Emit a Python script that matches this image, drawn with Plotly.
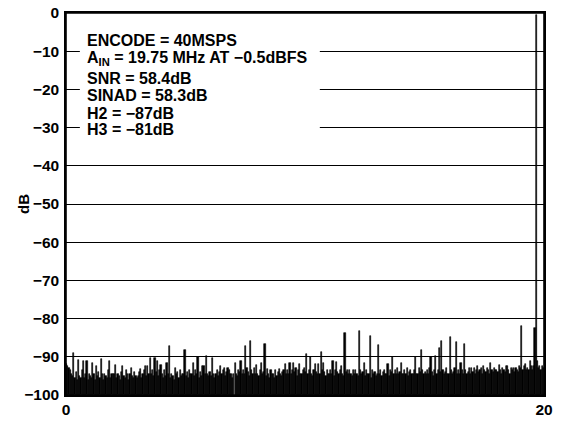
import plotly.graph_objects as go

# FFT bins: 0.05 MHz spacing, 20 bins per MHz row (values in dB)
bin_step_mhz = 0.05
row0 = [-92.0, -92.5, -93.0, -93.5, -94.5, -95.0, -89.0, -95.5, -94.0, -96.0, -90.8, -95.0, -95.5, -93.5, -91.2, -95.5, -94.5, -91.2, -96.0, -94.5]
row1 = [-95.0, -95.5, -91.5, -94.5, -96.0, -92.5, -95.0, -94.0, -95.5, -90.6, -94.5, -96.0, -94.5, -95.0, -95.5, -93.5, -91.2, -95.5, -94.5, -94.5]
row2 = [-94.5, -92.1, -95.5, -94.5, -95.0, -96.0, -94.0, -92.5, -95.0, -95.5, -93.5, -94.5, -96.0, -94.5, -92.9, -95.0, -95.5, -94.0, -95.0, -95.5]
row3 = [-95.0, -94.0, -93.2, -95.5, -94.5, -93.5, -92.5, -95.0, -92.3, -94.5, -90.2, -94.5, -93.5, -95.0, -90.4, -94.0, -91.2, -95.0, -93.5, -92.1]
row4 = [-94.5, -95.5, -93.5, -95.0, -91.5, -94.5, -87.3, -95.5, -94.5, -95.0, -96.0, -93.0, -94.5, -94.0, -95.5, -93.5, -95.0, -94.5, -94.5, -88.2]
row5 = [-95.0, -94.0, -95.5, -93.5, -94.5, -94.5, -91.7, -95.0, -93.5, -94.5, -90.1, -95.5, -94.0, -95.0, -92.5, -92.5, -94.5, -89.7, -94.5, -95.0]
row6 = [-94.0, -95.0, -90.2, -94.5, -95.5, -94.5, -93.5, -95.0, -94.0, -92.3, -94.5, -93.5, -92.8, -95.0, -94.0, -92.8, -93.5, -94.5, -94.5, -95.5]
row7 = [-94.5, -91.7, -94.5, -95.0, -93.5, -94.0, -91.2, -94.5, -93.5, -94.5, -87.1, -93.0, -94.0, -95.0, -85.8, -93.5, -94.5, -93.0, -94.5, -92.1]
row8 = [-94.5, -95.0, -93.5, -91.5, -94.5, -94.0, -86.6, -95.0, -93.2, -94.5, -95.5, -93.5, -94.5, -94.5, -95.5, -93.5, -95.0, -94.0, -93.2, -94.5]
row9 = [-95.0, -94.0, -93.5, -91.9, -94.5, -93.5, -94.5, -91.7, -94.5, -93.5, -91.5, -94.0, -92.8, -95.0, -93.5, -92.0, -94.5, -94.5, -93.5, -92.8]
row10 = [-94.0, -89.3, -94.5, -93.5, -90.1, -94.5, -95.0, -93.5, -91.8, -94.0, -94.5, -91.8, -94.5, -88.8, -93.5, -91.7, -94.0, -95.0, -93.5, -94.5]
row11 = [-94.5, -93.5, -94.5, -91.0, -95.0, -93.5, -91.3, -94.0, -94.5, -93.5, -92.5, -94.5, -95.0, -83.8, -94.0, -93.5, -94.5, -93.5, -94.5, -95.0]
row12 = [-93.5, -94.5, -93.5, -94.5, -95.0, -83.2, -93.5, -94.5, -94.0, -91.5, -95.0, -93.5, -94.5, -94.5, -84.5, -95.5, -93.5, -94.5, -94.0, -95.0]
row13 = [-94.5, -87.0, -94.5, -93.5, -95.0, -94.0, -93.5, -94.5, -94.5, -92.0, -95.0, -93.5, -94.0, -90.1, -94.5, -93.5, -94.5, -93.0, -94.5, -94.0]
row14 = [-91.7, -94.5, -94.5, -93.5, -94.5, -93.0, -95.0, -94.0, -93.5, -94.5, -94.5, -93.5, -90.1, -94.5, -94.5, -93.0, -94.0, -88.2, -93.5, -94.5]
row15 = [-94.0, -94.5, -93.5, -94.5, -93.0, -90.1, -94.0, -95.0, -93.5, -89.7, -94.5, -93.5, -87.7, -94.0, -85.8, -93.5, -94.5, -94.0, -93.0, -94.5]
row16 = [-94.5, -84.9, -93.5, -94.5, -94.0, -93.0, -86.2, -94.5, -93.5, -94.5, -91.7, -93.5, -94.5, -86.7, -93.5, -94.5, -94.0, -93.0, -94.5, -93.0]
row17 = [-94.0, -93.0, -94.5, -93.5, -92.5, -94.0, -93.5, -93.0, -94.5, -92.5, -93.5, -94.0, -93.0, -93.5, -94.5, -91.7, -93.5, -94.0, -93.0, -93.5]
row18 = [-93.5, -94.0, -92.1, -93.5, -94.5, -93.0, -93.5, -94.0, -92.5, -92.5, -93.5, -94.5, -93.0, -93.5, -92.9, -94.0, -93.0, -93.5, -94.0, -92.5]
row19 = [-93.0, -81.9, -93.5, -92.5, -92.0, -93.5, -93.0, -93.5, -91.2, -92.5, -93.5, -92.5, -82.5, -0.5, -91.0, -93.0, -92.5, -93.5, -92.5, -93.0]

rows = [row0, row1, row2, row3, row4, row5, row6, row7, row8, row9,
        row10, row11, row12, row13, row14, row15, row16, row17, row18, row19]
spectrum_db = [v for r in rows for v in r]
freq_mhz = [i * bin_step_mhz for i in range(len(spectrum_db))]

floor_db = -100
y_tick_vals = [0, -10, -20, -30, -40, -50, -60, -70, -80, -90, -100]
y_tick_text = ["0", "−10", "−20", "−30", "−40", "−50", "−60", "−70", "−80", "−90", "−100"]
x_tick_vals = [0, 20]
x_tick_text = ["0", "20"]
y_title = "dB"

info_lines = [
    "ENCODE = 40MSPS",
    "A<sub>IN</sub> = 19.75 MHz AT −0.5dBFS",
    "SNR = 58.4dB",
    "SINAD = 58.3dB",
    "H2 = −87dB",
    "H3 = −81dB",
]
info_y = [0.929, 0.880, 0.8285, 0.784, 0.736, 0.694]

FONT = "Liberation Sans, Arial, Helvetica, sans-serif"

fig = go.Figure()
fig.add_trace(go.Bar(
    x=freq_mhz,
    y=[v - floor_db for v in spectrum_db],
    base=floor_db,
    width=bin_step_mhz,
    offset=0,
    marker=dict(color="black", line=dict(width=0.6, color="black")),
    showlegend=False,
    hoverinfo="skip",
))

fig.add_shape(type="rect", xref="paper", yref="paper",
              x0=0.029, x1=0.531, y0=0.654, y1=0.994,
              fillcolor="white", line=dict(width=0), layer="above")
# plot frame
fig.add_shape(type="rect", xref="paper", yref="paper",
              x0=0, x1=1, y0=0, y1=1,
              fillcolor="rgba(0,0,0,0)", line=dict(width=1.6, color="black"), layer="above")

for txt, yy in zip(info_lines, info_y):
    fig.add_annotation(text="<b>" + txt + "</b>", xref="paper", yref="paper",
                       x=0.040, y=yy, xanchor="left", yanchor="middle",
                       showarrow=False, font=dict(family=FONT, size=16, color="black"))

fig.add_annotation(text="<b>" + y_title + "</b>", xref="paper", yref="paper",
                   x=-0.09, y=0.5, xanchor="center", yanchor="middle", textangle=-90,
                   showarrow=False, font=dict(family=FONT, size=15, color="black"))

fig.update_layout(
    width=562, height=423,
    margin=dict(l=66, r=18, t=13, b=28, autoexpand=False),
    plot_bgcolor="white", paper_bgcolor="white",
    bargap=0,
    font=dict(family=FONT, color="black"),
)
fig.update_xaxes(range=[0, 20], tickvals=x_tick_vals, ticktext=x_tick_text,
                 showgrid=False, zeroline=False, showline=True, mirror=True,
                 linecolor="black", linewidth=1.5, ticks="", automargin=False,
                 tickfont=dict(family=FONT, size=15.5, color="black", weight="bold"))
fig.update_yaxes(range=[-100, 0], tickvals=y_tick_vals, ticktext=y_tick_text,
                 showgrid=True, gridcolor="black", gridwidth=1.3, zeroline=False,
                 showline=True, mirror=True, linecolor="black", linewidth=1.5,
                 ticks="", ticklabelstandoff=2, automargin=False,
                 tickfont=dict(family=FONT, size=15.5, color="black", weight="bold"))

fig.write_html("out.html", config={"displayModeBar": False},
               post_script="document.body.style.margin='0px';")
